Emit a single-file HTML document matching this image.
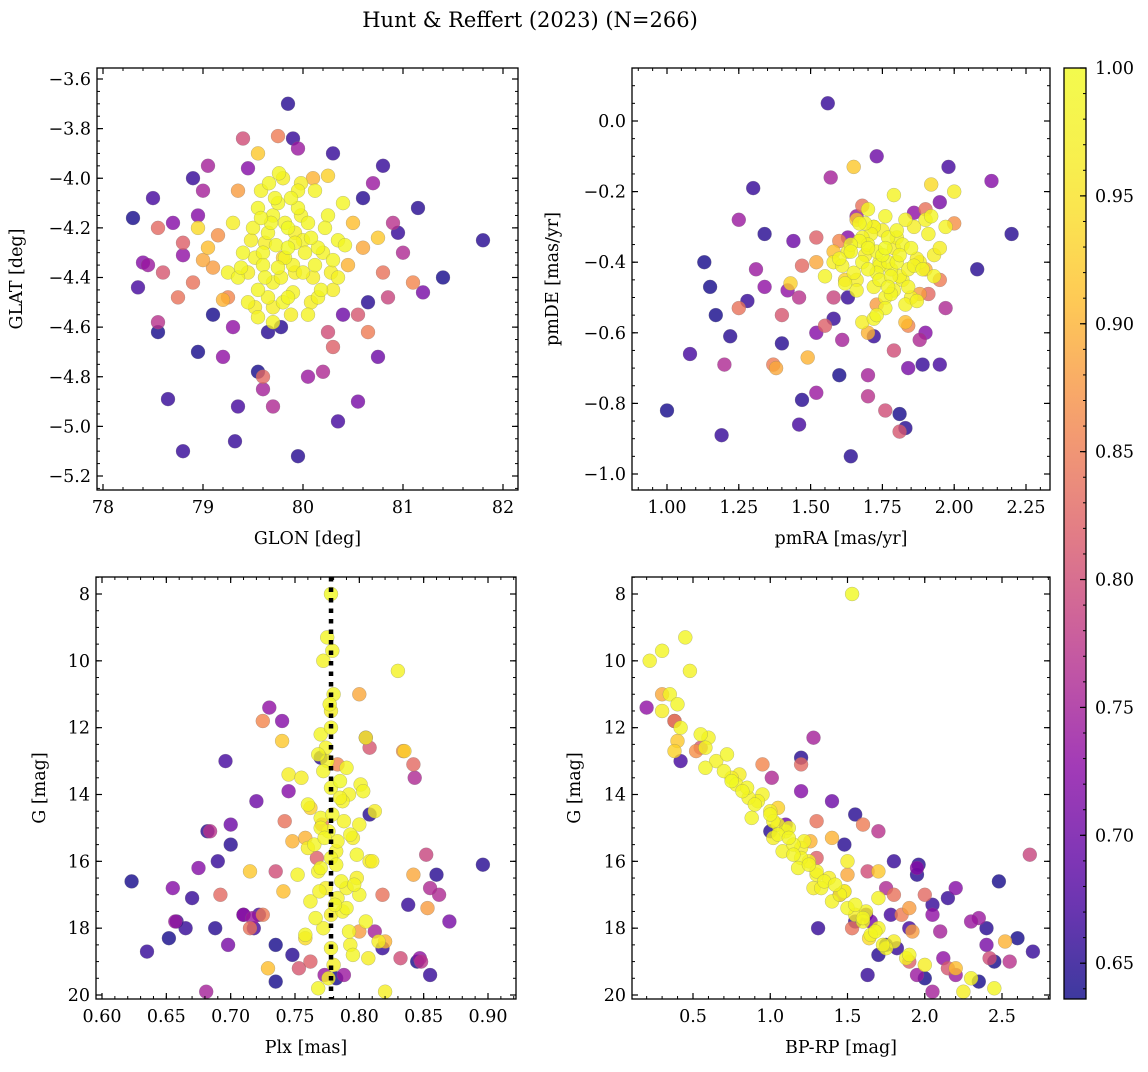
<!DOCTYPE html>
<html><head><meta charset="utf-8"><style>
body{margin:0;background:#fff}
svg text{font-family:"DejaVu Serif","Liberation Serif",serif;fill:#000}
</style></head><body>
<svg id="chart" width="1148" height="1067" xmlns="http://www.w3.org/2000/svg">
<text x="530" y="27" font-size="21" text-anchor="middle">Hunt &amp; Reffert (2023) (N=266)</text>
</svg>
<script>
const prob=[1.00,0.99,0.99,0.98,0.98,0.99,0.97,0.99,0.98,0.99,0.98,0.99,0.97,1.00,0.99,0.98,0.99,0.97,0.99,0.98,0.99,0.97,0.99,0.98,0.99,0.97,0.99,0.98,0.99,0.97,0.99,0.98,0.99,0.97,0.99,0.98,0.99,0.97,0.98,0.99,0.97,0.98,0.99,0.97,0.98,0.99,0.98,0.97,0.99,0.98,
0.92,0.90,0.93,0.91,0.89,0.94,0.90,0.88,0.92,0.89,
0.84,0.82,0.80,0.86,0.83,0.81,0.85,0.79,0.84,
0.75,0.74,0.73,0.76,0.72,0.71,0.75,0.77,0.73,0.74,0.70,0.76,0.72,
0.65,0.64,0.66,0.65,0.66,0.64,0.67,0.65,0.66,0.65,0.64,0.66,0.67,0.65,0.66,0.64,
0.99,0.98,0.99,0.97,0.99,0.98,0.99,0.98,0.99,0.97,0.99,0.98,0.99,0.98,0.99,0.97,0.99,0.98,0.99,0.98,0.99,0.97,0.98,0.99,0.98,
0.93,0.91,0.88,0.90,0.86,0.84,0.82,0.80,0.83,0.85,0.81,0.87,
0.74,0.72,0.76,0.73,0.71,0.75,0.70,0.77,0.74,0.72,0.66,0.65,0.67,0.64,0.66,0.65,0.67,0.64,0.66,0.65];
const glon=[79.85,79.70,79.60,80.00,79.90,79.75,80.10,79.55,79.95,79.80,80.20,79.65,79.45,79.85,80.05,79.70,79.95,80.30,79.60,79.50,80.15,79.88,79.72,80.00,79.40,79.92,80.25,79.65,79.82,80.08,79.55,79.78,80.35,79.98,79.35,79.70,80.12,79.62,79.90,80.40,79.52,80.02,79.68,79.80,79.45,80.18,79.58,80.28,79.75,79.25,
79.55,79.20,80.25,79.05,80.60,78.95,80.45,79.35,80.75,79.00,
78.75,80.30,79.40,81.10,78.55,80.55,79.75,80.85,78.90,
79.00,80.70,79.30,80.20,78.40,81.20,79.60,80.90,78.80,79.95,80.40,79.70,78.95,
81.80,78.30,78.80,79.95,79.32,81.40,78.35,79.85,78.65,80.60,79.10,80.30,78.50,79.78,80.95,79.55,
79.62,79.98,80.22,79.48,79.85,80.12,79.73,79.55,80.30,79.92,79.38,80.05,79.66,79.82,80.42,79.30,79.76,80.15,79.88,79.52,80.08,79.70,79.92,79.58,80.35,
79.80,80.50,79.10,80.10,79.25,80.80,78.80,80.25,79.60,80.65,78.60,79.15,
78.45,78.70,81.00,79.20,80.55,79.05,80.75,78.55,80.05,79.45,78.90,81.15,80.35,78.55,79.90,80.65,79.35,78.95,80.80,79.65];
const glat=[-4.20,-4.15,-4.30,-4.25,-4.35,-4.10,-4.40,-4.45,-4.05,-4.50,-4.30,-4.22,-4.38,-4.28,-4.18,-4.42,-4.12,-4.45,-4.35,-4.20,-4.28,-4.55,-4.08,-4.38,-4.30,-4.22,-4.15,-4.48,-4.32,-4.50,-4.12,-4.40,-4.25,-4.02,-4.40,-4.58,-4.35,-4.26,-4.46,-4.10,-4.52,-4.30,-4.18,-4.00,-4.50,-4.45,-4.05,-4.38,-4.36,-4.38,
-3.90,-4.49,-3.99,-4.28,-4.28,-4.20,-4.35,-4.05,-4.24,-4.33,
-4.48,-4.68,-3.84,-4.42,-4.20,-4.55,-3.83,-4.48,-4.42,
-4.05,-4.02,-4.60,-4.78,-4.34,-4.46,-4.85,-4.18,-4.31,-3.88,-4.55,-4.92,-4.15,
-4.25,-4.16,-5.10,-5.12,-5.06,-4.40,-4.44,-3.70,-4.89,-4.08,-4.55,-3.90,-4.08,-4.60,-4.22,-4.78,
-4.40,-4.15,-4.20,-4.25,-4.48,-4.05,-4.27,-4.56,-4.33,-4.38,-4.36,-4.55,-4.02,-4.18,-4.27,-4.18,-3.98,-4.48,-4.08,-4.32,-4.24,-4.52,-4.26,-4.16,-4.40,
-4.32,-4.18,-4.36,-4.00,-4.48,-4.38,-4.26,-4.62,-4.80,-4.62,-4.38,-4.23,
-4.35,-4.18,-4.30,-4.72,-4.90,-3.95,-4.72,-4.58,-4.80,-3.96,-4.00,-4.12,-4.98,-4.62,-3.84,-4.50,-4.92,-4.70,-3.95,-4.62];
const pmra=[1.75,1.70,1.78,1.72,1.82,1.68,1.85,1.77,1.90,1.73,1.65,1.80,1.88,1.76,1.62,1.83,1.70,1.93,1.67,1.79,1.74,1.86,1.60,1.81,1.72,1.95,1.69,1.84,1.76,1.63,1.89,1.71,1.78,1.66,1.82,1.74,1.92,1.68,1.80,1.73,1.87,1.76,1.70,1.58,1.97,1.64,1.79,2.00,1.77,1.55,
1.65,1.49,1.43,1.83,1.52,1.92,1.70,1.88,1.66,1.38,
1.25,1.55,1.76,1.60,1.91,1.81,1.37,1.58,1.90,
1.70,1.31,1.42,1.20,2.13,1.95,1.57,1.46,1.86,1.52,1.73,1.88,1.63,
2.20,1.00,1.19,1.64,1.56,1.13,1.08,1.47,1.89,1.22,1.81,1.63,1.95,1.34,1.58,1.15,
1.74,1.68,1.80,1.72,1.85,1.66,1.78,1.83,1.70,1.75,1.93,1.61,1.76,1.87,1.81,1.69,1.77,1.91,1.73,1.84,1.67,1.79,1.72,1.64,1.86,
1.62,1.58,1.73,1.90,1.84,1.68,1.52,1.79,1.47,1.95,1.40,2.00,
1.25,1.52,1.97,1.34,1.84,1.61,1.44,1.70,1.66,1.90,1.30,2.08,1.46,1.17,1.72,1.40,1.98,1.60,1.28,1.83];
const pmde=[-0.38,-0.35,-0.42,-0.30,-0.45,-0.40,-0.50,-0.33,-0.28,-0.37,-0.43,-0.31,-0.40,-0.36,-0.46,-0.52,-0.25,-0.38,-0.34,-0.48,-0.41,-0.30,-0.39,-0.44,-0.56,-0.36,-0.29,-0.47,-0.53,-0.37,-0.42,-0.32,-0.49,-0.45,-0.35,-0.40,-0.27,-0.57,-0.33,-0.43,-0.39,-0.50,-0.42,-0.40,-0.30,-0.35,-0.21,-0.20,-0.40,-0.44,
-0.13,-0.67,-0.46,-0.57,-0.40,-0.18,-0.60,-0.49,-0.28,-0.70,
-0.53,-0.58,-0.82,-0.34,-0.49,-0.88,-0.69,-0.50,-0.25,
-0.72,-0.42,-0.48,-0.69,-0.17,-0.23,-0.16,-0.50,-0.26,-0.77,-0.10,-0.62,-0.33,
-0.32,-0.82,-0.89,-0.95,0.05,-0.40,-0.66,-0.79,-0.69,-0.61,-0.83,-0.50,-0.69,-0.32,-0.56,-0.47,
-0.45,-0.33,-0.40,-0.30,-0.36,-0.48,-0.44,-0.28,-0.36,-0.31,-0.44,-0.41,-0.27,-0.51,-0.38,-0.38,-0.47,-0.32,-0.55,-0.42,-0.29,-0.36,-0.47,-0.37,-0.41,
-0.45,-0.37,-0.52,-0.42,-0.58,-0.24,-0.33,-0.65,-0.41,-0.45,-0.55,-0.29,
-0.28,-0.60,-0.53,-0.47,-0.70,-0.62,-0.34,-0.78,-0.27,-0.60,-0.19,-0.42,-0.86,-0.55,-0.61,-0.63,-0.13,-0.72,-0.51,-0.87];
const plx=[0.778,0.775,0.779,0.772,0.830,0.780,0.778,0.770,0.805,0.768,0.775,0.790,0.745,0.785,0.778,0.792,0.760,0.812,0.770,0.800,0.776,0.795,0.765,0.782,0.778,0.808,0.770,0.752,0.786,0.774,0.800,0.762,0.790,0.778,0.805,0.772,0.758,0.815,0.778,0.795,0.780,0.776,0.768,0.820,0.783,0.770,0.787,0.798,0.778,0.793,
0.740,0.820,0.835,0.729,0.842,0.758,0.748,0.853,0.715,0.800,
0.742,0.762,0.832,0.783,0.692,0.808,0.725,0.852,0.715,
0.681,0.717,0.730,0.843,0.655,0.870,0.805,0.684,0.847,0.773,0.700,0.862,0.740,
0.896,0.623,0.635,0.682,0.855,0.782,0.696,0.748,0.665,0.770,0.845,0.690,0.722,0.808,0.658,0.735,
0.772,0.785,0.793,0.760,0.782,0.768,0.798,0.788,0.803,0.755,0.781,0.769,0.792,0.774,0.796,0.810,0.777,0.783,0.766,0.801,0.779,0.807,0.790,0.773,0.787,
0.762,0.741,0.800,0.758,0.725,0.818,0.767,0.735,0.842,0.771,0.753,0.834,
0.657,0.675,0.855,0.710,0.698,0.812,0.720,0.848,0.788,0.745,0.670,0.688,0.710,0.652,0.818,0.860,0.718,0.735,0.838,0.700];
const gmag=[8.0,9.3,9.7,10.0,10.3,11.0,11.5,12.2,12.3,12.8,13.0,13.2,13.4,13.6,13.8,14.0,14.3,14.5,14.7,14.9,15.1,15.3,15.5,15.7,15.9,16.0,16.2,16.4,16.6,16.8,17.0,17.2,17.4,17.6,17.8,18.0,18.2,18.4,18.6,18.8,19.1,19.5,19.8,19.9,17.1,15.0,14.2,16.5,12.0,18.5,
12.4,18.4,12.7,19.2,16.4,18.3,15.4,17.4,16.3,11.0,
14.8,19.0,18.9,13.1,17.0,12.6,17.6,15.8,18.0,
19.9,17.7,11.4,13.5,16.8,17.8,12.3,15.1,18.9,19.4,14.9,17.0,11.8,
16.1,16.6,18.7,15.1,19.4,19.5,13.0,18.8,18.0,12.9,19.0,16.0,17.6,14.6,17.8,18.5,
13.3,14.1,15.2,15.6,16.1,16.3,15.8,14.8,13.9,13.5,17.3,16.9,18.1,12.6,16.7,16.0,11.3,15.4,17.7,13.7,14.6,18.9,16.8,15.3,17.5,
14.4,16.9,18.1,15.3,11.8,17.0,15.9,16.3,13.1,14.9,19.2,12.7,
17.8,16.2,16.8,17.6,18.5,18.1,14.2,19.0,19.4,13.9,17.1,18.0,17.6,18.3,18.6,16.4,18.0,19.6,17.3,15.5];
const bprp=[1.53,0.45,0.30,0.22,0.48,0.35,0.30,0.55,0.60,0.72,0.65,0.58,0.80,0.75,0.85,0.95,0.90,1.00,0.88,1.05,1.10,1.02,1.15,1.08,1.20,1.25,1.18,1.30,1.35,1.28,1.45,1.40,1.50,1.55,1.60,1.70,1.65,1.80,1.75,1.90,2.00,2.30,2.45,2.25,1.70,1.12,0.92,1.38,0.42,1.73,
0.40,2.52,0.38,2.20,1.50,1.64,1.26,1.90,1.70,0.30,
1.30,1.90,2.42,0.95,2.00,0.55,1.85,2.68,1.53,
2.05,2.35,0.20,1.01,2.20,1.65,1.28,1.70,2.12,1.95,1.10,1.45,0.38,
1.96,2.48,2.70,1.00,1.63,2.00,0.42,1.70,1.31,1.20,2.45,1.80,1.78,1.55,1.55,1.75,
0.70,0.86,1.05,1.20,1.25,1.30,1.15,1.02,0.82,0.75,1.55,1.48,1.68,0.58,1.42,1.50,0.40,1.22,1.60,0.78,1.00,1.88,1.33,1.12,1.62,
1.05,1.48,1.92,1.40,0.38,1.80,1.30,1.63,1.20,1.60,2.15,0.52,
2.30,1.95,1.75,2.05,2.40,2.10,1.40,2.55,2.20,1.20,2.15,2.40,1.62,2.60,1.82,1.95,1.90,2.35,2.05,1.48];
const cbTicks=[0.65,0.70,0.75,0.80,0.85,0.90,0.95,1.00];
const VMIN=0.636, VMAX=1.0;

const NS='http://www.w3.org/2000/svg';
const svg=document.getElementById('chart');
function mk(tag,attrs,parent){const e=document.createElementNS(NS,tag);for(const k in attrs)e.setAttribute(k,attrs[k]);(parent||svg).appendChild(e);return e;}
const stops=[[0,[13,8,135]],[0.125,[84,2,163]],[0.25,[139,10,165]],[0.375,[185,50,137]],[0.5,[219,92,104]],[0.625,[244,136,73]],[0.75,[254,188,43]],[0.875,[248,232,33]],[1,[240,249,33]]];
function cmap(v){let t=(v-VMIN)/(VMAX-VMIN);t=Math.max(0,Math.min(1,t));for(let i=1;i<stops.length;i++){if(t<=stops[i][0]){const a=stops[i-1],b=stops[i];const f=(t-a[0])/(b[0]-a[0]);const c=a[1].map((x,j)=>Math.round(x+(b[1][j]-x)*f));return `rgb(${c[0]},${c[1]},${c[2]})`;}}return 'rgb(240,249,33)';}
const FS=17.5;
const panels=[
 {name:'glon-glat',L:97,R:518,T:68,B:490,xv:[78,103,82,503],yv:[-3.6,79,-5.2,476],xs:glon,ys:glat,xt:[78,79,80,81,82],xf:v=>v.toFixed(0),xm:0.2,yt:[-3.6,-3.8,-4.0,-4.2,-4.4,-4.6,-4.8,-5.0,-5.2],yf:v=>'\u2212'+Math.abs(v).toFixed(1),ym:0.05,xl:'GLON [deg]',yl:'GLAT [deg]',ylx:22},
 {name:'pmra-pmde',L:632,R:1050,T:68,B:490,xv:[1.0,667,2.25,1026],yv:[0,121,-1.0,474],xs:pmra,ys:pmde,xt:[1.0,1.25,1.5,1.75,2.0,2.25],xf:v=>v.toFixed(2),xm:0.05,yt:[0,-0.2,-0.4,-0.6,-0.8,-1.0],yf:v=>(v<0?'\u2212':'')+Math.abs(v).toFixed(1),ym:0.05,xl:'pmRA [mas/yr]',yl:'pmDE [mas/yr]',ylx:558},
 {name:'plx-g',L:96,R:516,T:577,B:999,xv:[0.60,102,0.90,488],yv:[8,594,20,995],xs:plx,ys:gmag,xt:[0.60,0.65,0.70,0.75,0.80,0.85,0.90],xf:v=>v.toFixed(2),xm:0.01,yt:[8,10,12,14,16,18,20],yf:v=>v.toFixed(0),ym:0.5,xl:'Plx [mas]',yl:'G [mag]',ylx:45,vline:0.778},
 {name:'bprp-g',L:632,R:1050,T:577,B:999,xv:[0.5,693,2.5,1002],yv:[8,594,20,995],xs:bprp,ys:gmag,xt:[0.5,1.0,1.5,2.0,2.5],xf:v=>v.toFixed(1),xm:0.1,yt:[8,10,12,14,16,18,20],yf:v=>v.toFixed(0),ym:0.5,xl:'BP-RP [mag]',yl:'G [mag]',ylx:580}
];
panels.forEach(p=>{
 const g=mk('g',{});
 
 
 const X=v=>p.xv[1]+(v-p.xv[0])*(p.xv[3]-p.xv[1])/(p.xv[2]-p.xv[0]);
 const Y=v=>p.yv[1]+(v-p.yv[0])*(p.yv[3]-p.yv[1])/(p.yv[2]-p.yv[0]);
 const inv=u=>p.xv[0]+(u-p.xv[1])*(p.xv[2]-p.xv[0])/(p.xv[3]-p.xv[1]);
 const invY=u=>p.yv[0]+(u-p.yv[1])*(p.yv[2]-p.yv[0])/(p.yv[3]-p.yv[1]);
 const idx=prob.map((_,i)=>i).sort((a,b)=>prob[a]-prob[b]);
 const pts=mk('g',{},g);
 
 
 idx.forEach(i=>{const c=mk('circle',{cx:X(p.xs[i]).toFixed(1),cy:Y(p.ys[i]).toFixed(1),r:7,fill:cmap(prob[i]),'fill-opacity':0.8,stroke:'#777','stroke-width':0.4,'stroke-opacity':0.6},pts);
  
  });
 if(p.vline!==undefined){const l=mk('line',{x1:X(p.vline),x2:X(p.vline),y1:p.T,y2:p.B,stroke:'#000','stroke-width':4.5,'stroke-dasharray':'4.5 6'},g);
  
  }
 const fr=mk('rect',{x:p.L,y:p.T,width:p.R-p.L,height:p.B-p.T,fill:'none',stroke:'#000','stroke-width':1.3},g);
 
 
 const x0=Math.min(inv(p.L),inv(p.R)),x1=Math.max(inv(p.L),inv(p.R));
 for(let v=Math.ceil(x0/p.xm)*p.xm;v<=x1+1e-9;v+=p.xm){const u=X(v);mk('line',{x1:u,x2:u,y1:p.B,y2:p.B-3,stroke:'#000','stroke-width':1},g);mk('line',{x1:u,x2:u,y1:p.T,y2:p.T+3,stroke:'#000','stroke-width':1},g);}
 p.xt.forEach(v=>{const u=X(v);mk('line',{x1:u,x2:u,y1:p.B,y2:p.B-6,stroke:'#000','stroke-width':1.2},g);mk('line',{x1:u,x2:u,y1:p.T,y2:p.T+6,stroke:'#000','stroke-width':1.2},g);
  const t=mk('text',{x:u,y:p.B+23,'font-size':FS,'text-anchor':'middle'},g);t.textContent=p.xf(v);
  
  });
 const y0=Math.min(invY(p.T),invY(p.B)),y1=Math.max(invY(p.T),invY(p.B));
 for(let v=Math.ceil(y0/p.ym-1e-6)*p.ym;v<=y1+1e-9;v+=p.ym){const u=Y(v);mk('line',{x1:p.L,x2:p.L+3,y1:u,y2:u,stroke:'#000','stroke-width':1},g);mk('line',{x1:p.R,x2:p.R-3,y1:u,y2:u,stroke:'#000','stroke-width':1},g);}
 p.yt.forEach(v=>{const u=Y(v);mk('line',{x1:p.L,x2:p.L+6,y1:u,y2:u,stroke:'#000','stroke-width':1.2},g);mk('line',{x1:p.R,x2:p.R-6,y1:u,y2:u,stroke:'#000','stroke-width':1.2},g);
  const t=mk('text',{x:p.L-6,y:u+6,'font-size':FS,'text-anchor':'end'},g);t.textContent=p.yf(v);
  
  });
 const xl=mk('text',{x:(p.L+p.R)/2,y:p.B+54,'font-size':17.5,'text-anchor':'middle'},g);xl.textContent=p.xl;
 
 
 const cy=(p.T+p.B)/2;
 const yl=mk('text',{x:p.ylx,y:cy,'font-size':17.5,'text-anchor':'middle',transform:`rotate(-90 ${p.ylx} ${cy})`},g);yl.textContent=p.yl;
 
 
});
const cb=mk('g',{});


const defs=mk('defs',{},cb);
const lg=mk('linearGradient',{id:'plasma',x1:0,y1:1,x2:0,y2:0},defs);
for(let k=0;k<=20;k++){const v=VMIN+(VMAX-VMIN)*k/20;mk('stop',{offset:k/20,'stop-color':cmap(v),'stop-opacity':0.8},lg);}
const CT=68,CB=999,CL=1064,CR=1086;
const CY=v=>CB+(v-VMIN)*(CT-CB)/(VMAX-VMIN);
mk('rect',{x:CL,y:CT,width:CR-CL,height:CB-CT,fill:'url(#plasma)',stroke:'#000','stroke-width':1.3},cb);
for(let v=0.64;v<=1.0001;v+=0.01){const u=CY(v);mk('line',{x1:CR,x2:CR-3,y1:u,y2:u,stroke:'#000','stroke-width':1},cb);}
cbTicks.forEach(v=>{const u=CY(v);mk('line',{x1:CR,x2:CR-6,y1:u,y2:u,stroke:'#000','stroke-width':1.2},cb);
 const t=mk('text',{x:CR+9,y:u+6,'font-size':FS},cb);t.textContent=v.toFixed(2);
 
 });
</script>
</body></html>
